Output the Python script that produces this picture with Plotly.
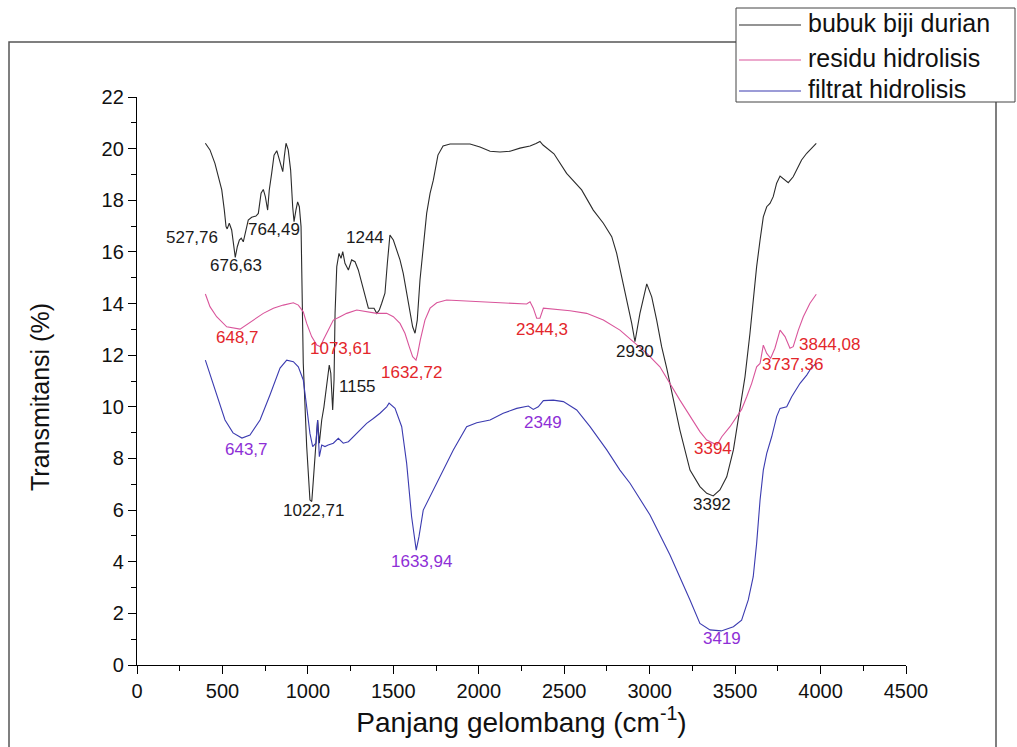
import plotly.graph_objects as go

# FTIR spectra: wavenumber (cm-1) and transmittance (%)
wn_bubuk = [400, 427, 456, 476, 496, 511, 521, 527.76, 540, 554,
            568, 575, 587, 599, 610, 622, 638, 651, 671, 696,
            710, 726, 739, 751, 764.49, 774, 788, 802, 818, 837,
            853, 862, 872, 885, 899, 911, 919, 930, 940, 950,
            960, 973, 993, 1012, 1022.71, 1032, 1047, 1057, 1067, 1081,
            1094, 1110, 1125, 1134, 1145, 1153, 1159, 1169, 1182, 1194,
            1204, 1217, 1237, 1256, 1276, 1295, 1315, 1334, 1354, 1373,
            1387, 1403, 1418, 1432, 1451, 1465, 1480, 1500, 1520, 1539,
            1558, 1578, 1598, 1613, 1627, 1640, 1656, 1675, 1695, 1715,
            1734, 1761, 1791, 1832, 1949, 2007, 2066, 2124, 2183, 2241,
            2300, 2335, 2358, 2376, 2405, 2440, 2514, 2602, 2670, 2729,
            2778, 2807, 2836, 2866, 2895, 2914, 2943, 2983, 3012, 3041,
            3070, 3100, 3177, 3236, 3294, 3334, 3372, 3411, 3451, 3490,
            3529, 3558, 3587, 3606, 3626, 3646, 3665, 3685, 3704, 3723,
            3743, 3763, 3792, 3811, 3840, 3870, 3889, 3919, 3948, 3975]
t_bubuk = [20.21, 19.95, 19.43, 18.91, 18.40, 17.62, 16.98, 16.89, 17.11, 16.85,
           16.20, 15.79, 16.20, 16.46, 16.53, 16.39, 16.85, 17.23, 17.34, 17.39,
           17.49, 18.27, 18.42, 18.14, 17.62, 18.40, 19.04, 19.75, 19.92, 19.43,
           19.11, 19.69, 20.21, 19.95, 19.17, 17.75, 17.17, 17.62, 17.94, 17.75,
           16.98, 11.68, 8.46, 6.39, 6.33, 7.17, 8.46, 9.49, 8.59, 9.49,
           10.00, 10.78, 11.62, 11.30, 9.88, 11.04, 13.62, 15.43, 15.94, 15.75,
           16.01, 15.56, 15.30, 15.69, 15.62, 15.30, 14.78, 14.26, 13.82, 13.82,
           13.82, 13.62, 13.75, 14.01, 14.40, 15.56, 16.65, 16.46, 16.07, 15.69,
           15.17, 14.40, 13.62, 13.10, 12.85, 13.36, 14.91, 16.20, 17.49, 18.27,
           18.78, 19.75, 20.10, 20.18, 20.18, 20.06, 19.90, 19.87, 19.90, 20.02,
           20.10, 20.20, 20.28, 20.14, 20.00, 19.80, 19.04, 18.40, 17.62, 17.11,
           16.59, 15.94, 15.04, 14.14, 13.23, 12.52, 13.62, 14.76, 14.26, 13.36,
           12.33, 11.49, 9.10, 7.55, 6.91, 6.65, 6.55, 6.78, 7.29, 8.33,
           9.88, 11.17, 12.85, 14.14, 15.43, 16.46, 17.36, 17.75, 17.88, 18.14,
           18.66, 18.94, 18.78, 18.68, 18.91, 19.30, 19.56, 19.82, 20.01, 20.20]

wn_residu = [400, 411, 427, 466, 525, 603, 681, 739, 798, 856,
             915, 944, 973, 993, 1022, 1052, 1073.61, 1090, 1119, 1149,
             1188, 1227, 1286, 1344, 1403, 1461, 1500, 1539, 1568, 1593,
             1613, 1632.72, 1641, 1658, 1685, 1715, 1754, 1812, 1909, 2007,
             2105, 2202, 2280, 2300, 2319, 2339, 2358, 2378, 2436, 2534,
             2631, 2729, 2826, 2904, 2983, 3060, 3177, 3294, 3334, 3394,
             3422, 3470, 3509, 3538, 3568, 3597, 3626, 3646, 3665, 3685,
             3708, 3733, 3763, 3792, 3821, 3840, 3870, 3899, 3938, 3975]
t_residu = [14.37, 14.14, 13.88, 13.49, 13.10, 13.01, 13.36, 13.62, 13.82, 13.94,
            14.03, 13.94, 13.68, 13.23, 12.72, 12.39, 12.33, 12.59, 12.97, 13.36,
            13.49, 13.62, 13.75, 13.68, 13.62, 13.62, 13.49, 13.23, 12.85, 12.33,
            11.94, 11.81, 12.01, 12.59, 13.36, 13.82, 14.03, 14.14, 14.11, 14.07,
            14.06, 14.03, 13.98, 14.07, 13.82, 13.43, 13.43, 13.82, 13.78, 13.72,
            13.62, 13.36, 12.97, 12.52, 12.07, 11.55, 10.26, 9.04, 8.71, 8.52,
            8.84, 9.23, 9.62, 9.90, 10.39, 10.91, 11.55, 11.68, 12.39, 12.07,
            11.88, 12.27, 12.97, 12.72, 12.27, 12.33, 12.97, 13.49, 14.01, 14.36]

wn_filtrat = [400, 456, 515, 562, 614, 661, 720, 778, 837, 876,
              915, 944, 973, 993, 1012, 1028, 1047, 1057, 1067, 1081,
              1100, 1119, 1149, 1178, 1207, 1237, 1266, 1305, 1344, 1383,
              1422, 1461, 1475, 1510, 1529, 1549, 1578, 1607, 1633.94, 1650,
              1675, 1715, 1773, 1851, 1929, 1988, 2066, 2143, 2222, 2290,
              2319, 2348, 2378, 2436, 2495, 2573, 2651, 2749, 2826, 2885,
              3002, 3119, 3236, 3294, 3353, 3419, 3490, 3538, 3577, 3606,
              3626, 3646, 3665, 3685, 3714, 3743, 3763, 3802, 3831, 3880,
              3919, 3948, 3975]
t_filtrat = [11.81, 10.65, 9.49, 8.99, 8.79, 8.91, 9.49, 10.46, 11.50, 11.81,
             11.75, 11.55, 11.04, 10.00, 8.97, 8.46, 8.59, 9.49, 8.07, 8.52,
             8.46, 8.52, 8.59, 8.78, 8.59, 8.65, 8.84, 9.10, 9.36, 9.55,
             9.75, 10.00, 10.14, 9.94, 9.62, 9.23, 7.81, 5.74, 4.45, 4.97,
             6.00, 6.52, 7.29, 8.33, 9.23, 9.38, 9.49, 9.75, 9.94, 10.03,
             9.90, 10.00, 10.24, 10.26, 10.20, 9.88, 9.23, 8.33, 7.55, 7.04,
             5.81, 4.26, 2.52, 1.61, 1.36, 1.32, 1.48, 1.74, 2.52, 3.42,
             4.71, 6.39, 7.55, 8.20, 8.84, 9.62, 9.94, 10.00, 10.39, 10.91,
             11.23, 11.53, 11.68]

series_names = ["bubuk biji durian", "residu hidrolisis", "filtrat hidrolisis"]
line_colors = ["#2b2b2b", "#d9559b", "#3b3bb0"]
label_colors = ["#1a1a1a", "#e3262b", "#8e2fd6"]

# Peak labels: text, wavenumber, transmittance where the text sits
labels_bubuk = ["527,76", "676,63", "764,49", "1244", "1155", "1022,71", "2930", "3392"]
lx_bubuk = [319, 581, 803, 1334, 1293, 1032, 2914, 3365]
ly_bubuk = [16.57, 15.49, 16.85, 16.57, 10.78, 6.00, 12.13, 6.20]

labels_residu = ["648,7", "1073,61", "1632,72", "2344,3", "3394", "3737,36", "3844,08"]
lx_residu = [588, 1192, 1607, 2368, 3371, 3833, 4052]
ly_residu = [12.70, 12.27, 11.32, 13.00, 8.39, 11.62, 12.43]

labels_filtrat = ["643,7", "1633,94", "2349", "3419"]
lx_filtrat = [638, 1666, 2373, 3426]
ly_filtrat = [8.33, 4.00, 9.38, 1.03]

W, H = 1017, 747
ML, MR, MT, MB = 137, 111, 97, 82
PW, PH = W - ML - MR, H - MT - MB
BASE_FONT = "Liberation Sans, Arial"


def to_paper_x(p):
    return (p - ML) / PW


def to_paper_y(p):
    return (H - MB - p) / PH


fig = go.Figure()
for name, xs, ys, col in zip(series_names,
                             [wn_bubuk, wn_residu, wn_filtrat],
                             [t_bubuk, t_residu, t_filtrat],
                             line_colors):
    fig.add_trace(go.Scatter(x=xs, y=ys, mode="lines", name=name,
                             line=dict(color=col, width=1.1),
                             showlegend=False))

annotations = []
for texts, xs, ys, col in [(labels_bubuk, lx_bubuk, ly_bubuk, label_colors[0]),
                           (labels_residu, lx_residu, ly_residu, label_colors[1]),
                           (labels_filtrat, lx_filtrat, ly_filtrat, label_colors[2])]:
    for t, x, y in zip(texts, xs, ys):
        annotations.append(dict(x=x, y=y, xref="x", yref="y", text=t,
                                showarrow=False, xanchor="center", yanchor="middle",
                                font=dict(family=BASE_FONT, size=17, color=col)))

# y-axis title
annotations.append(dict(x=to_paper_x(40), y=to_paper_y(397), xref="paper", yref="paper",
                        text="Transmitansi (%)", textangle=-90, showarrow=False,
                        xanchor="center", yanchor="middle",
                        font=dict(family=BASE_FONT, size=25, color="#111111")))

# Outer frame and legend box
shapes = [
    dict(type="rect", xref="paper", yref="paper",
         x0=to_paper_x(9), x1=to_paper_x(996), y0=to_paper_y(760), y1=to_paper_y(42),
         line=dict(color="#555555", width=1.5), fillcolor="rgba(0,0,0,0)", layer="above"),
    dict(type="rect", xref="paper", yref="paper",
         x0=to_paper_x(736), x1=to_paper_x(1015), y0=to_paper_y(102), y1=to_paper_y(8),
         line=dict(color="#444444", width=1), fillcolor="white", layer="above"),
]
legend_rows = [25, 60, 91]
for name, col, ry in zip(series_names, line_colors, legend_rows):
    shapes.append(dict(type="line", xref="paper", yref="paper",
                       x0=to_paper_x(739), x1=to_paper_x(801),
                       y0=to_paper_y(ry), y1=to_paper_y(ry),
                       line=dict(color=col, width=1.1), layer="above"))
    annotations.append(dict(x=to_paper_x(806), y=to_paper_y(ry - 2), xref="paper", yref="paper",
                            text=name, showarrow=False, xanchor="left", yanchor="middle",
                            font=dict(family=BASE_FONT, size=25, color="#111111")))

fig.update_layout(
    width=W, height=H, autosize=False,
    margin=dict(l=ML, r=MR, t=MT, b=MB, pad=0),
    paper_bgcolor="white", plot_bgcolor="white",
    font=dict(family=BASE_FONT, color="#111111"),
    shapes=shapes, annotations=annotations, showlegend=False,
)
fig.update_xaxes(
    range=[0, 4500], tickmode="linear", tick0=0, dtick=500,
    showgrid=False, zeroline=False, showline=True, linecolor="black", linewidth=1.3,
    ticks="outside", ticklen=8, tickwidth=1.3, tickcolor="black",
    minor=dict(ticks="outside", ticklen=5, tickwidth=1.2, tickcolor="black", dtick=250, tick0=0, showgrid=False),
    tickfont=dict(family=BASE_FONT, size=20, color="#111111"),
    title=dict(text="Panjang gelombang (cm<sup>-1</sup>)", standoff=4,
               font=dict(family=BASE_FONT, size=28, color="#111111")),
)
fig.update_yaxes(
    range=[0, 22], tickmode="linear", tick0=0, dtick=2,
    showgrid=False, zeroline=False, showline=True, linecolor="black", linewidth=1.3,
    ticks="outside", ticklen=8, tickwidth=1.3, tickcolor="black",
    minor=dict(ticks="outside", ticklen=5, tickwidth=1.2, tickcolor="black", dtick=1, tick0=0, showgrid=False),
    tickfont=dict(family=BASE_FONT, size=20, color="#111111"),
)

fig.write_html("out.html")
